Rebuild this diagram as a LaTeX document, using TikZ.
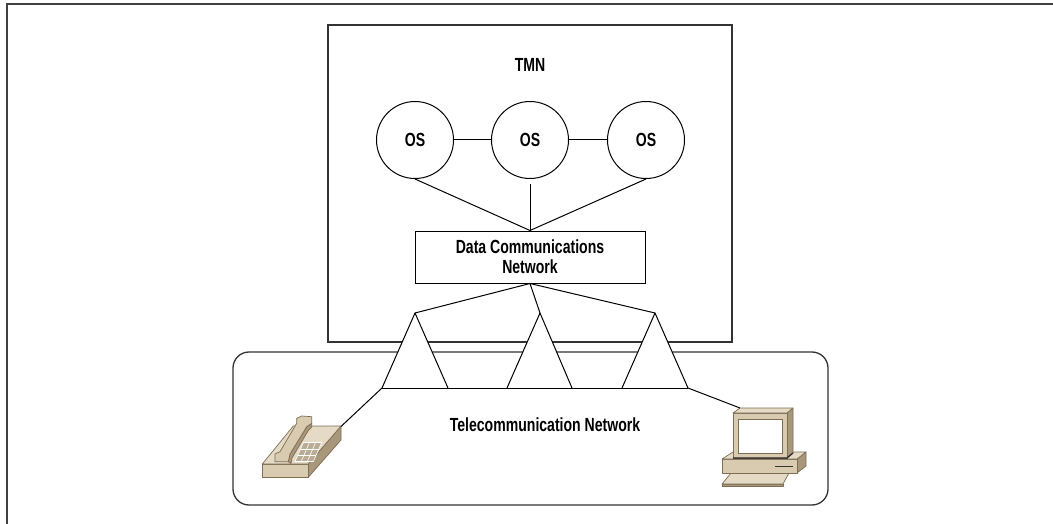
\documentclass[tikz,border=0pt]{standalone}
\usepackage{fontspec}
\setmainfont{Liberation Sans}[FakeStretch=0.74]
\begin{document}
\begin{tikzpicture}[x=1pt,y=-1pt,
  lbl/.style={font=\bfseries\fontsize{19}{20}\selectfont, inner sep=0pt},
  boxline/.style={draw=black!80, line width=1.3pt},
  wire/.style={draw=black, line width=1pt},
  osnode/.style={circle, draw=black, line width=1pt, minimum size=77pt, inner sep=0pt, lbl},
  tanface/.style={fill=tanlight, draw=tanline, line width=0.7pt, line join=round},
  tantop/.style={fill=tantop, draw=tanline, line width=0.7pt, line join=round},
  tanside/.style={fill=tandark, draw=tanline, line width=0.7pt, line join=round}]
\definecolor{tanlight}{HTML}{D8CBB0}
\definecolor{tantop}{HTML}{E4DAC5}
\definecolor{tandark}{HTML}{A8977A}
\definecolor{tanline}{HTML}{7D6D55}
\useasboundingbox (0,0) rectangle (1053,524);

% page frame (top and left rules)
\draw[draw=black!75, line width=2pt] (7,524) -- (7,4) -- (1053,4);

% management network and telecommunication network boxes
\node[boxline, minimum width=404pt, minimum height=317pt, inner sep=0pt] (tmn) at (530,183.5) {};
\node[boxline, rounded corners=16pt, minimum width=595pt, minimum height=153pt, inner sep=0pt] (tel) at (530.5,428.5) {};

\node[lbl] (tmnlabel) at (530,65) {TMN};
\node[lbl] (tellabel) at (545,425) {Telecommunication Network};

% operations systems
\node[osnode] (os1) at (415,140) {OS};
\node[osnode] (os2) at (530,140) {OS};
\node[osnode] (os3) at (646,140) {OS};
\draw[wire] (os1) -- (os2);
\draw[wire] (os2) -- (os3);

% data communications network
\node[draw=black, line width=1pt, minimum width=230pt, minimum height=52pt, align=center, lbl] (dcn) at (530,257) {Data Communications\\Network};
\draw[wire] (os1.south) -- (dcn.north);
\draw[wire, shorten <=5pt] (os2.south) -- (dcn.north);
\draw[wire] (os3.south) -- (dcn.north);

% network elements (triangles)
\coordinate (t1) at (415,313);  \coordinate (t1l) at (382,388);  \coordinate (t1r) at (448,388);
\coordinate (t2) at (540,313);  \coordinate (t2l) at (507,388);  \coordinate (t2r) at (572,388);
\coordinate (t3) at (655,313);  \coordinate (t3l) at (622,388);  \coordinate (t3r) at (688,388);
\foreach \t in {t1,t2,t3}{
  \fill[white] (\t) -- (\t l) -- (\t r) -- cycle;
  \draw[wire, line join=round] (\t l) -- (\t) -- (\t r);
  \draw[wire] (dcn.south) -- (\t);
}
\draw[wire] (t1l) -- (t3r);

% telephone
\coordinate (phonejack) at (341,426.5);
\draw[tanside] (308.3,464) -- (341,426) -- (341,440) -- (308.3,477.3) -- cycle;
\draw[tanface] (262.3,464) -- (308.3,464) -- (308.3,477.3) -- (262.3,477.3) -- cycle;
\draw[tantop] (262.3,464) -- (308.3,464) -- (341,426) -- (293.3,426) -- cycle;
% keypad
\fill[tandark!80] (295,461.7) -- (313.3,461.7) -- (321.6,442.7) -- (303.3,442.7) -- cycle;
\foreach \u in {0,1,2,3}{
  \draw[white, line width=0.6pt] ({295+18.3*\u/3},461.7) -- ({303.3+18.3*\u/3},442.7);
  \draw[white, line width=0.6pt] ({295+8.3*\u/3},{461.7-19*\u/3}) -- ({313.3+8.3*\u/3},{461.7-19*\u/3});
}
% handset
\draw[tanside] (288.3,461.7) -- (290,454) -- (306.7,426.7) -- (311.7,423.3) -- (311.7,427) -- (308,431) -- (292,458) -- (291,463.5) -- cycle;
\draw[tanface] (275,461.7) -- (275,454) -- (280,451.7) -- (296.7,423.3) -- (296.7,418.3) -- (301.7,416)
  -- (311.7,416.7) -- (311.7,423.3) -- (306.7,426.7) -- (290,454) -- (288.3,461.7) -- cycle;
\draw[wire] (t1l) -- (phonejack);

% computer
\coordinate (pcjack) at (740,408);
% keyboard
\draw[tanside] (722,484) -- (783,484) -- (783,486.5) -- (722,486.5) -- cycle;
\draw[tantop] (722,484) -- (783,484) -- (789,473) -- (731,473) -- cycle;
% system unit
\draw[tanside] (797,459) -- (806,452) -- (806,466) -- (797,473) -- cycle;
\draw[tanface] (722,459) -- (797,459) -- (797,473) -- (722,473) -- cycle;
\draw[tantop] (722,459) -- (733,452) -- (806,452) -- (797,459) -- cycle;
\draw[black!80, line width=1pt] (775,466) -- (793,466);
% monitor
\draw[tanside] (787,413) -- (793,408) -- (793,453) -- (787,458) -- cycle;
\draw[tanface] (733,413) -- (787,413) -- (787,458) -- (733,458) -- cycle;
\draw[tantop] (733,413) -- (740,408) -- (793,408) -- (787,413) -- cycle;
\draw[fill=white, draw=tanline, line width=0.8pt] (738,419) rectangle (782,453);
\draw[black!85, line width=1.2pt] (733,458) -- (787,458) -- (793,453);
\draw[wire] (t3r) -- (pcjack);
\end{tikzpicture}
\end{document}
